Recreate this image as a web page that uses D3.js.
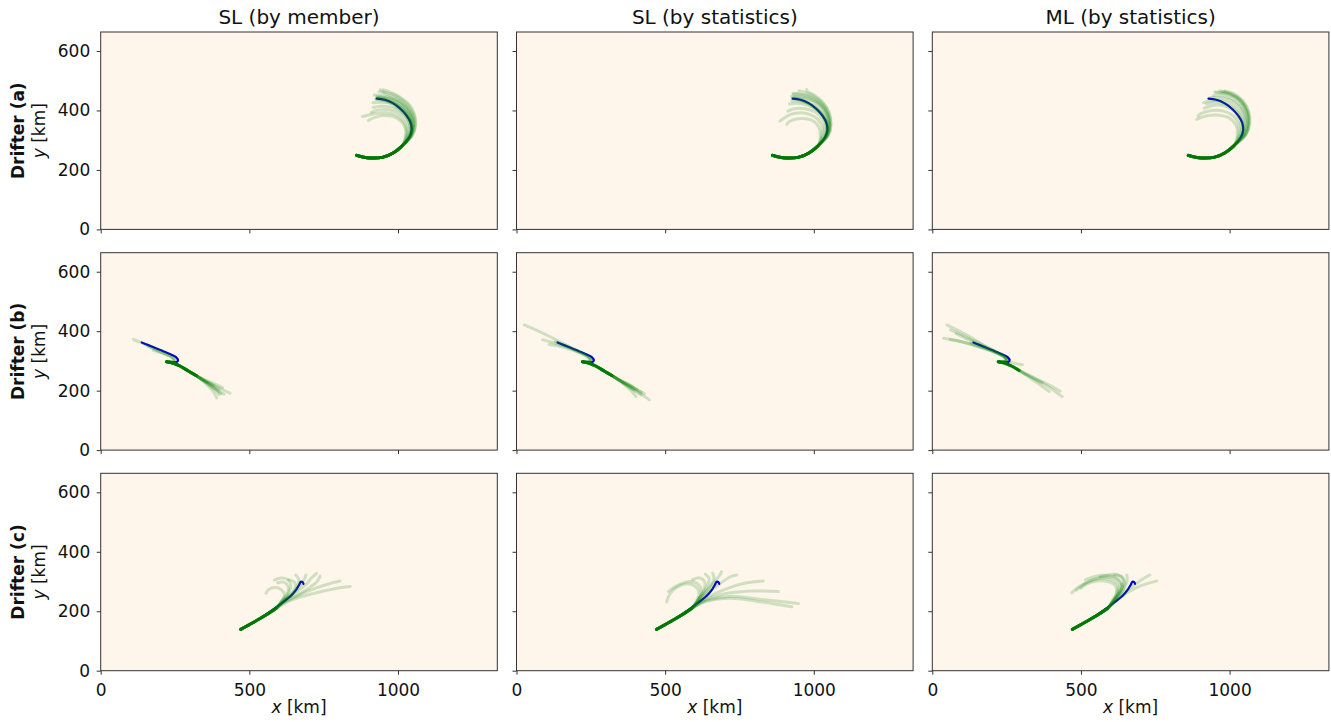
<!DOCTYPE html>
<html><head><meta charset="utf-8">
<script src="https://cdn.jsdelivr.net/npm/d3@7"></script>
<style>body{margin:0;background:#fff}svg{display:block}</style>
</head><body>
<script>
const colTitles = ["SL (by member)", "SL (by statistics)", "ML (by statistics)"];
const rowLabels = ["Drifter (a)", "Drifter (b)", "Drifter (c)"];
const xTicks = [0, 500, 1000];
const yTicks = [0, 200, 400, 600];

// true drifter trajectories [x km, y km]
const truthA = [[861,249],[885,243],[917,240],[950,243],[985,258],[1015,282],[1038,310],[1046,335],[1042,360],[1029,383],[1008,406],[984,424],[955,436],[929,440]];
const truthB = [[222,297],[240,295],[255,296],[260,302],[254,312],[238,321],[212,332],[182,344],[158,354],[138,362]];
const truthC = [[471,139],[500,155],[530,172],[560,192],[590,213],[618,234],[640,252],[657,272],[668,290],[673,299],[679,298],[682,292]];

// common ensemble trunks
const trunkA = [[861,249],[885,243],[917,240],[950,243],[985,258],[1015,282]];
const trunkB = [[222,297],[245,292],[268,282],[295,266],[322,250]];
const trunkB3 = [[222,297],[245,292],[268,282],[292,268]];
const trunkC = [[471,139],[500,155],[530,172],[560,190],[590,210]];

// ensemble member tails (after trunk)
const membersA1 = [
 [[1048,318],[1058,352],[1052,388],[1032,420],[1000,445],[962,460],[935,462]],
 [[1042,314],[1050,345],[1044,378],[1024,408],[994,430],[958,442],[930,444]],
 [[1046,316],[1055,350],[1049,385],[1028,416],[996,440],[960,456],[940,470]],
 [[1040,315],[1047,347],[1040,378],[1020,404],[990,424],[955,436],[925,438]],
 [[1030,314],[1034,345],[1024,372],[1002,392],[970,402],[935,402],[910,394]],
 [[1025,312],[1024,342],[1008,366],[982,380],[950,383],[920,376],[900,366]],
 [[1035,315],[1040,346],[1030,376],[1008,398],[975,412],[940,414],[917,410]],
 [[1028,313],[1028,342],[1015,368],[990,386],[958,392],[925,390],[880,380]],
 [[1050,318],[1060,354],[1054,392],[1034,424],[1002,448],[968,464],[950,470]],
 [[1044,316],[1052,350],[1046,384],[1026,414],[995,436],[958,448],[920,452]],
 [[1038,316],[1044,348],[1036,380],[1015,406],[984,422],[948,428],[916,426]],
 [[1043,315],[1051,348],[1045,381],[1025,410],[993,432],[956,444],[928,447]],
 [[1038,310],[1046,336],[1042,362],[1028,386],[1006,408],[980,426],[950,438],[928,441]],
 [[1040,311],[1048,337],[1044,363],[1030,388],[1008,410],[982,428],[952,440],[935,443]],
 [[1036,309],[1044,334],[1040,360],[1026,384],[1004,405],[978,423],[948,434],[926,438]]
];
const membersA2 = [
 [[1046,318],[1054,352],[1048,388],[1028,420],[996,444],[960,454],[931,455]],
 [[1050,318],[1058,354],[1052,392],[1032,426],[1002,452],[976,466],[976,471]],
 [[1040,315],[1046,348],[1038,380],[1016,406],[984,424],[950,432],[926,432]],
 [[1046,316],[1053,352],[1046,388],[1024,420],[992,442],[955,455],[930,458]],
 [[1032,315],[1036,346],[1026,375],[1003,396],[970,406],[935,406],[912,398]],
 [[1026,314],[1028,344],[1014,370],[988,386],[955,392],[920,386],[886,364]],
 [[1022,315],[1018,342],[1002,362],[975,372],[945,372],[920,364],[909,354]],
 [[1045,316],[1052,352],[1044,388],[1022,418],[988,438],[952,446],[925,448]],
 [[1036,315],[1042,348],[1032,380],[1010,404],[978,418],[945,424],[918,422]],
 [[1048,317],[1057,354],[1050,392],[1030,424],[1000,448],[968,462],[950,466]],
 [[1044,316],[1050,350],[1043,384],[1022,414],[990,434],[954,444],[936,446]],
 [[1039,311],[1047,337],[1043,363],[1029,387],[1007,409],[981,427],[951,439],[930,442]],
 [[1037,310],[1045,335],[1041,361],[1027,385],[1005,406],[979,424],[949,436],[927,440]]
];
const membersA3 = [
 [[1054,318],[1066,355],[1062,396],[1042,432],[1008,456],[967,466]],
 [[1052,320],[1062,358],[1056,398],[1034,434],[998,455],[955,460]],
 [[1047,320],[1056,358],[1047,398],[1022,430],[984,448],[945,450]],
 [[1042,320],[1048,356],[1036,392],[1008,420],[968,434],[930,432],[912,426]],
 [[1036,320],[1038,356],[1022,390],[992,412],[952,418],[915,408]],
 [[1031,320],[1030,354],[1012,382],[980,398],[940,400],[905,390],[894,382]],
 [[1026,320],[1022,350],[1000,374],[965,384],[925,382],[889,370]],
 [[1050,320],[1060,360],[1053,402],[1028,436],[990,456],[950,462]],
 [[1044,320],[1052,360],[1042,400],[1014,428],[974,442],[935,444]],
 [[1039,320],[1043,358],[1028,392],[998,416],[958,428],[922,422]],
 [[1053,319],[1064,356],[1059,397],[1038,432],[1004,455],[975,464]],
 [[1056,320],[1068,358],[1064,398],[1044,434],[1012,458],[985,466]]
];
const membersB1 = [
 [[348,235],[380,218],[410,203],[435,192]],
 [[345,232],[365,212],[382,192],[390,175]],
 [[345,236],[365,226],[379,219]],
 [[350,232],[378,212],[400,196],[415,188]],
 [[352,236],[385,222],[410,210]],
 [[346,234],[372,215],[395,198],[405,190]],
 [[340,238],[360,228]],
 [[348,234],[376,218],[398,204]],
 [[344,233],[368,216],[388,200],[398,186]]
];
const membersB2 = [
 [[350,232],[385,210],[420,188],[447,169]],
 [[348,232],[372,212],[390,195],[402,180]],
 [[346,236],[370,225],[391,214]],
 [[350,233],[382,215],[410,200],[430,190]],
 [[352,234],[388,214],[420,195]],
 [[345,235],[370,220],[395,203]],
 [[348,234],[378,218],[405,204]],
 [[347,233],[376,214],[400,198],[418,186]]
];
const membersB3 = [
 [[320,252],[355,232],[395,210],[437,180]],
 [[318,250],[350,228],[375,210],[393,197]],
 [[322,254],[360,235],[400,215],[430,198]],
 [[315,255],[345,240],[370,228]]
];
// members that branch off right at the release point
const earlyB1 = [
 [[248,300],[244,310],[220,322],[180,340],[140,360],[110,372]],
 [[246,302],[238,313],[208,326],[177,336]],
 [[247,301],[240,312],[212,326],[185,338],[160,348]]
];
const earlyB2 = [
 [[250,300],[246,312],[215,330],[170,352],[120,378],[70,402],[26,421]],
 [[248,302],[240,314],[205,332],[160,350],[120,362],[88,371]],
 [[246,302],[236,316],[200,332],[150,348],[110,355]],
 [[249,301],[242,313],[210,330],[165,350],[130,365]]
];
const earlyB3 = [
 [[250,300],[246,312],[215,330],[170,355],[110,390],[49,421]],
 [[248,302],[240,314],[205,332],[150,350],[90,366],[38,376]],
 [[250,300],[245,313],[212,332],[160,358],[110,382],[61,404]],
 [[248,301],[242,313],[210,330],[165,350],[120,372],[80,392]],
 [[247,302],[240,315],[208,330],[160,346],[110,362],[60,372]],
 [[249,300],[244,312],[214,328],[170,345],[130,360]],
 [[250,298],[275,292],[303,287]]
];
const membersC1 = [
 [[625,230],[680,250],[750,268],[810,280],[839,283]],
 [[622,232],[670,256],[730,280],[780,296],[805,302]],
 [[618,236],[655,262],[690,290],[712,315],[726,327]],
 [[612,236],[632,262],[640,288],[630,306],[606,312],[585,305]],
 [[615,234],[645,258],[662,285],[666,308],[656,322]],
 [[608,234],[618,255],[608,272],[588,280],[566,274],[556,260]],
 [[620,232],[662,254],[700,278],[728,300],[738,318]],
 [[616,236],[648,262],[672,288],[686,310],[690,322]],
 [[610,236],[628,260],[630,285],[615,298],[595,296]],
 [[614,235],[640,258],[655,282],[650,300],[632,306]]
];
const membersC2 = [
 [[610,236],[622,265],[612,290],[585,300],[552,292],[526,278],[511,266]],
 [[606,236],[614,262],[600,285],[568,292],[538,280],[516,258],[505,232]],
 [[612,240],[630,272],[633,298],[617,312],[592,306]],
 [[640,236],[720,250],[820,240],[948,226]],
 [[640,234],[720,244],[820,232],[926,215]],
 [[640,240],[720,262],[800,268],[881,266]],
 [[638,244],[708,276],[770,295],[830,302]],
 [[630,250],[680,290],[720,316],[741,322]],
 [[625,250],[660,292],[684,322],[690,333]],
 [[620,248],[648,280],[664,308],[660,328]],
 [[615,245],[640,282],[648,310],[635,325]]
];
const membersC3 = [
 [[610,236],[628,268],[630,296],[610,312],[570,314],[530,302],[492,282],[469,262]],
 [[607,235],[622,264],[622,292],[600,306],[560,309],[520,296],[485,271]],
 [[612,238],[634,270],[643,302],[630,320],[600,324],[565,316]],
 [[615,238],[642,272],[656,306],[654,322]],
 [[612,238],[630,264],[640,284],[637,292]],
 [[620,236],[655,262],[700,285],[755,302]],
 [[618,236],[648,266],[690,296],[720,316],[732,322]],
 [[606,236],[620,262],[615,287],[590,300],[555,302],[520,292],[500,278]],
 [[610,236],[630,264],[636,294],[620,312],[590,320],[550,318],[515,306]],
 [[614,238],[638,268],[648,298],[638,316],[612,322]]
];

const panels = [
 [{truth:truthA,trunk:trunkA,members:membersA1,early:[]},{truth:truthA,trunk:trunkA,members:membersA2,early:[]},{truth:truthA,trunk:trunkA,members:membersA3,early:[]}],
 [{truth:truthB,trunk:trunkB,members:membersB1,early:earlyB1},{truth:truthB,trunk:trunkB,members:membersB2,early:earlyB2},{truth:truthB,trunk:trunkB3,members:membersB3,early:earlyB3}],
 [{truth:truthC,trunk:trunkC,members:membersC1,early:[]},{truth:truthC,trunk:trunkC,members:membersC2,early:[]},{truth:truthC,trunk:trunkC,members:membersC3,early:[]}]
];

const W = 1331, H = 722;
const colX = [100.7, 516.5, 932.3];
const rowY = [32, 252.7, 473.3];
const pw = 396.6, ph = 197.4;
const font = "'DejaVu Sans', sans-serif";
const axisColor = "#333";

const svg = d3.select("body").append("svg").attr("width", W).attr("height", H)
  .style("font-family", font);

const x = d3.scaleLinear().domain([0, 1334]).range([0, pw]);
const y = d3.scaleLinear().domain([0, 664]).range([ph, 0]);
const line = d3.line().x(d => x(d[0])).y(d => y(d[1])).curve(d3.curveCatmullRom.alpha(0.5));

svg.append("defs").append("clipPath").attr("id", "clip")
  .append("rect").attr("width", pw).attr("height", ph);

panels.forEach((row, r) => {
  row.forEach((p, c) => {
    const g = svg.append("g").attr("transform", `translate(${colX[c]},${rowY[r]})`);
    g.append("rect").attr("width", pw).attr("height", ph).attr("fill", "#fef5eb");
    const plot = g.append("g").attr("clip-path", "url(#clip)");
    plot.append("path").attr("d", line(p.truth)).attr("fill", "none")
      .attr("stroke", "#0000cd").attr("stroke-width", 2.2).attr("stroke-linecap", "round");
    const paths = p.members.map(t => p.trunk.concat(t))
      .concat(p.early.map(t => [p.trunk[0]].concat(t)));
    plot.selectAll("path.m").data(paths).enter().append("path").attr("class", "m")
      .attr("d", line).attr("fill", "none").attr("stroke", "#008000")
      .attr("stroke-opacity", 0.18).attr("stroke-width", 3).attr("stroke-linecap", "round");
    plot.append("path").attr("d", line(p.trunk)).attr("fill", "none")
      .attr("stroke", "#007800").attr("stroke-width", 3).attr("stroke-linecap", "round");

    const xa = d3.axisBottom(x).tickValues(xTicks).tickSize(4).tickPadding(9).tickFormat(d3.format("d"));
    const ya = d3.axisLeft(y).tickValues(yTicks).tickSize(4).tickPadding(6.5).tickFormat(d3.format("d"));
    if (r < 2) xa.tickFormat("");
    if (c > 0) ya.tickFormat("");
    const gx = g.append("g").attr("transform", `translate(0,${ph})`).call(xa);
    const gy = g.append("g").call(ya);
    [gx, gy].forEach(a => {
      a.select(".domain").remove();
      a.selectAll("line").attr("stroke", axisColor).attr("stroke-width", 1);
      a.selectAll("text").attr("fill", "#111").style("font-size", "17px").style("font-family", font);
    });
    g.append("rect").attr("width", pw).attr("height", ph).attr("fill", "none")
      .attr("stroke", axisColor).attr("stroke-width", 1);

    if (r === 0) {
      svg.append("text").attr("x", colX[c] + pw / 2).attr("y", 24)
        .attr("text-anchor", "middle").style("font-size", "20px").attr("fill", "#111")
        .text(colTitles[c]);
    }
    if (r === 2) {
      const t = svg.append("text").attr("x", colX[c] + pw / 2).attr("y", 713)
        .attr("text-anchor", "middle").style("font-size", "17px").attr("fill", "#111");
      t.append("tspan").style("font-style", "italic").text("x");
      t.append("tspan").text(" [km]");
    }
  });
  const cy = rowY[r] + ph / 2;
  svg.append("text").attr("transform", `translate(24,${cy}) rotate(-90)`)
    .attr("text-anchor", "middle").style("font-size", "17px").style("font-weight", "bold")
    .attr("fill", "#111").text(rowLabels[r]);
  const t = svg.append("text").attr("transform", `translate(45,${cy}) rotate(-90)`)
    .attr("text-anchor", "middle").style("font-size", "17px").attr("fill", "#111");
  t.append("tspan").style("font-style", "italic").text("y");
  t.append("tspan").text(" [km]");
});
</script>
</body></html>
